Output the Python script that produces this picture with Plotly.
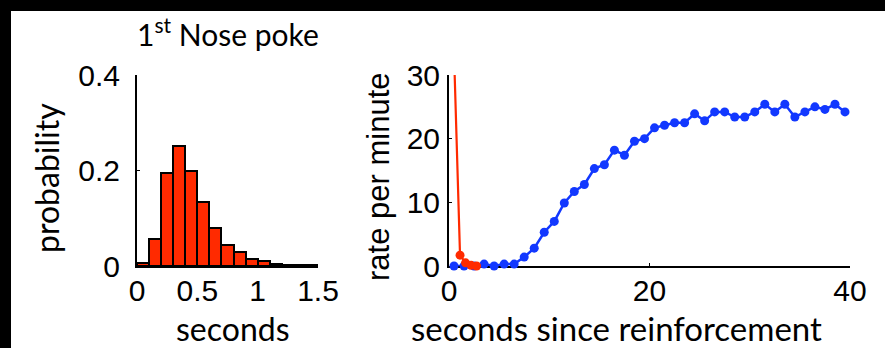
import plotly.graph_objects as go

# ---- data ----
bin_centers = [0.05, 0.15, 0.25, 0.35, 0.45, 0.55, 0.65, 0.75, 0.85, 0.95, 1.05, 1.15, 1.25, 1.35, 1.45]
probability = [0.007, 0.056, 0.195, 0.251, 0.200, 0.133, 0.080, 0.043, 0.029, 0.014, 0.010, 0.004, 0.003, 0.002, 0.002]

blue_t = [0.5, 1.5, 2.5, 3.5, 4.5, 5.5, 6.5, 7.5, 8.5, 9.5, 10.5, 11.5, 12.5, 13.5, 14.5, 15.5,
          16.5, 17.5, 18.5, 19.5, 20.5, 21.5, 22.5, 23.5, 24.5, 25.5, 26.5, 27.5, 28.5, 29.5,
          30.5, 31.5, 32.5, 33.5, 34.5, 35.5, 36.5, 37.5, 38.5, 39.5]
blue_rate = [0.0, 0.0, 0.0, 0.3, 0.0, 0.3, 0.3, 1.4, 2.8, 5.3, 7.0, 9.9, 11.7, 12.8, 15.3, 15.9,
             18.2, 17.4, 19.6, 20.0, 21.7, 22.1, 22.5, 22.5, 23.9, 22.8, 24.2, 24.2, 23.4, 23.4,
             24.2, 25.4, 24.2, 25.4, 23.4, 24.2, 25.0, 24.6, 25.4, 24.2]

red_t = [0.5, 1.1, 1.65, 2.2, 2.75]
red_rate = [33.5, 1.7, 0.5, 0.1, 0.0]

left_xticks = [0, 0.5, 1, 1.5]
left_xticklabels = ["0", "0.5", "1", "1.5"]
left_yticks = [0, 0.2, 0.4]
left_yticklabels = ["0", "0.2", "0.4"]
right_xticks = [0, 20, 40]
right_yticks = [0, 10, 20, 30]

W, H = 885, 348
def px(x):
    return x / W
def py(y):
    return 1 - y / H

RED = "#ff2a00"
BLUE = "#1238ff"
TICKFONT = dict(family="Liberation Sans, Arial", size=30, color="black")
GILL = "Lato, Open Sans"

fig = go.Figure()

fig.add_trace(go.Bar(
    x=bin_centers, y=probability, width=0.1,
    marker=dict(color=RED, line=dict(color="black", width=2)),
    xaxis="x", yaxis="y", showlegend=False))

fig.add_trace(go.Scatter(
    x=blue_t, y=blue_rate, mode="lines+markers",
    line=dict(color=BLUE, width=2.5), marker=dict(color=BLUE, size=9),
    cliponaxis=False, xaxis="x2", yaxis="y2", showlegend=False))

fig.add_trace(go.Scatter(
    x=red_t, y=red_rate, mode="lines",
    line=dict(color=RED, width=2.2),
    cliponaxis=True, xaxis="x2", yaxis="y2", showlegend=False))
fig.add_trace(go.Scatter(
    x=red_t[1:], y=red_rate[1:], mode="markers",
    marker=dict(color=RED, size=9),
    cliponaxis=False, xaxis="x2", yaxis="y2", showlegend=False))

axis_common = dict(showline=True, linecolor="black", linewidth=2, showgrid=False,
                   zeroline=False, ticks="inside", ticklen=3, tickwidth=1, automargin=False,
                   tickcolor="black", tickfont=TICKFONT, layer="below traces")

ydom = [py(266), py(75)]
fig.update_layout(
    template="none",
    width=W, height=H, autosize=False,
    margin=dict(l=0, r=0, t=0, b=0, pad=0, autoexpand=False),
    paper_bgcolor="white", plot_bgcolor="white",
    bargap=0, showlegend=False,
    xaxis=dict(domain=[px(137), px(318)], range=[0, 1.5], anchor="y",
               tickvals=left_xticks, ticktext=left_xticklabels, ticklabelstandoff=-3, **axis_common),
    yaxis=dict(domain=ydom, range=[0, 0.4], anchor="x",
               tickvals=left_yticks, ticktext=left_yticklabels, ticklabelstandoff=9, **axis_common),
    xaxis2=dict(domain=[px(449), px(850)], range=[0, 40], anchor="y2",
                tickvals=right_xticks, ticklabelstandoff=-3, **axis_common),
    yaxis2=dict(domain=ydom, range=[0, 30], anchor="x2",
                tickvals=right_yticks, ticklabelstandoff=1, **axis_common),
    shapes=[
        dict(type="rect", xref="paper", yref="paper", x0=0, x1=1, y0=py(11), y1=1,
             fillcolor="black", line=dict(width=0), layer="above"),
        dict(type="rect", xref="paper", yref="paper", x0=0, x1=px(11), y0=0, y1=1,
             fillcolor="black", line=dict(width=0), layer="above"),
    ],
    annotations=[
        dict(text="1<sup>st</sup> Nose poke", x=px(228), y=py(32), xref="paper", yref="paper",
             showarrow=False, xanchor="center", yanchor="middle",
             font=dict(family=GILL, size=30, color="black")),
        dict(text="probability", x=px(46), y=py(178), xref="paper", yref="paper",
             showarrow=False, xanchor="center", yanchor="middle", textangle=-90,
             font=dict(family=GILL, size=32, color="black")),
        dict(text="rate per minute", x=px(378), y=py(177), xref="paper", yref="paper",
             showarrow=False, xanchor="center", yanchor="middle", textangle=-90,
             font=dict(family="Liberation Sans, Arial", size=31, color="black")),
        dict(text="seconds", x=px(233), y=py(328), xref="paper", yref="paper",
             showarrow=False, xanchor="center", yanchor="middle",
             font=dict(family=GILL, size=32, color="black")),
        dict(text="seconds since reinforcement", x=px(616), y=py(328), xref="paper", yref="paper",
             showarrow=False, xanchor="center", yanchor="middle",
             font=dict(family=GILL, size=33, color="black")),
    ],
)

fig.write_html("out.html", config={"displayModeBar": False},
               post_script="document.body.style.margin='0px';document.body.style.overflow='hidden';")
